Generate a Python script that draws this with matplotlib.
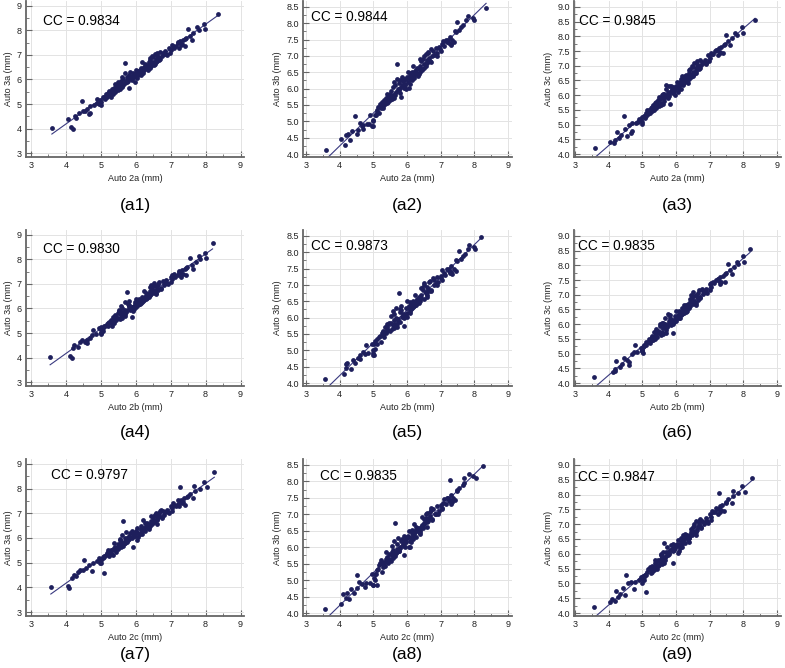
import numpy as np
import matplotlib
matplotlib.use("Agg")
import matplotlib.pyplot as plt
from matplotlib.ticker import MultipleLocator

plt.rcParams['font.family'] = ['Liberation Sans', 'DejaVu Sans']

# measurements per subject (mm), same order in every list
auto2a = [3.60, 4.05, 4.15, 4.20, 4.25, 4.30, 4.38, 4.45, 4.50, 4.65,
          4.55, 4.60, 4.68, 4.70, 4.80, 4.88, 4.90, 4.95, 5.00, 5.05,
          5.10, 5.12, 5.15, 5.18, 5.20, 5.22, 5.25, 5.28, 5.30, 5.32,
          5.35, 5.38, 5.40, 5.42, 5.45, 5.48, 5.50, 5.52, 5.55, 5.58,
          5.60, 5.62, 5.65, 5.68, 5.70, 5.72, 5.75, 5.78, 5.80, 5.82,
          5.85, 5.88, 5.90, 5.92, 5.95, 5.98, 6.00, 6.02, 6.05, 6.08,
          6.10, 6.12, 6.15, 6.18, 6.20, 6.22, 6.25, 6.28, 6.30, 6.32,
          6.35, 6.38, 6.40, 6.42, 6.45, 6.48, 6.50, 6.52, 6.55, 6.58,
          6.60, 6.62, 6.65, 6.68, 6.70, 6.75, 6.80, 6.85, 6.90, 6.95,
          7.00, 7.05, 7.10, 7.15, 7.20, 7.25, 7.28, 7.32, 7.35, 7.40,
          7.45, 7.50, 7.55, 7.60, 7.65, 7.75, 7.82, 7.95, 7.98, 8.35,
          5.08, 5.35, 5.55, 5.75, 5.95, 6.15, 6.35, 6.55, 5.00, 4.98,
          5.25, 5.45, 5.60, 5.65, 5.70, 5.78, 5.85, 5.90, 5.98, 6.02,
          6.08, 6.15, 6.22, 6.28, 6.32, 6.40, 6.45, 6.50, 6.58, 6.62,
          6.70, 6.78, 6.88, 6.98, 7.08, 7.22, 7.30, 7.42, 5.40, 5.50]
auto2b = [3.55, 4.20, 4.12, 4.18, 4.22, 4.35, 4.40, 4.78, 4.45, 4.60,
          4.60, 4.70, 4.75, 4.55, 4.85, 5.00, 4.95, 5.00, 5.05, 5.10,
          5.12, 5.05, 5.20, 5.22, 5.25, 5.18, 5.30, 5.32, 5.28, 5.40,
          5.38, 5.35, 5.45, 5.48, 5.50, 5.42, 5.55, 5.60, 5.58, 5.52,
          5.65, 5.70, 5.62, 5.72, 5.75, 5.68, 5.80, 5.85, 5.78, 5.90,
          5.88, 5.82, 5.95, 5.98, 6.00, 5.92, 6.05, 6.08, 6.00, 6.12,
          6.15, 6.10, 6.20, 6.25, 6.22, 6.18, 6.30, 6.32, 6.35, 6.28,
          6.40, 6.42, 6.38, 6.48, 6.50, 6.45, 6.55, 6.58, 6.52, 6.62,
          6.65, 6.68, 6.60, 6.72, 6.78, 6.80, 6.85, 6.88, 6.92, 7.00,
          7.05, 7.10, 7.12, 7.20, 7.25, 7.30, 7.32, 7.28, 7.40, 7.45,
          7.48, 7.55, 7.60, 7.65, 7.72, 7.80, 7.85, 7.98, 8.02, 8.20,
          5.02, 5.30, 5.60, 5.72, 5.98, 6.12, 6.30, 6.58, 5.02, 5.00,
          5.28, 5.42, 5.58, 5.70, 5.68, 5.80, 5.82, 5.92, 6.02, 6.00,
          6.10, 6.18, 6.25, 6.30, 6.35, 6.42, 6.42, 6.52, 6.55, 6.65,
          6.72, 6.80, 6.90, 7.00, 7.05, 7.25, 7.35, 7.45, 5.38, 5.52]
auto2c = [3.57, 4.18, 4.05, 4.10, 4.22, 4.28, 4.35, 4.52, 4.42, 5.10,
          4.50, 4.58, 4.65, 4.75, 4.78, 4.90, 4.95, 4.98, 5.02, 5.08,
          5.15, 5.10, 5.18, 5.25, 5.20, 5.28, 5.22, 5.35, 5.30, 5.38,
          5.45, 5.40, 5.48, 5.38, 5.52, 5.55, 5.50, 5.58, 5.62, 5.55,
          5.68, 5.65, 5.70, 5.75, 5.65, 5.78, 5.82, 5.80, 5.85, 5.92,
          5.88, 5.95, 5.90, 6.00, 5.98, 6.05, 6.02, 6.10, 6.08, 6.15,
          6.12, 6.20, 6.18, 6.22, 6.25, 6.28, 6.30, 6.35, 6.28, 6.38,
          6.42, 6.45, 6.40, 6.50, 6.48, 6.55, 6.52, 6.60, 6.58, 6.65,
          6.62, 6.70, 6.68, 6.75, 6.72, 6.82, 6.85, 6.90, 6.95, 7.02,
          7.05, 7.08, 7.15, 7.22, 7.28, 7.25, 7.30, 7.35, 7.38, 7.42,
          7.50, 7.28, 7.55, 7.65, 7.70, 7.68, 7.85, 7.95, 8.05, 8.25,
          5.05, 5.32, 5.58, 5.70, 5.92, 6.18, 6.38, 6.52, 5.00, 5.05,
          5.30, 5.48, 5.62, 5.68, 5.72, 5.75, 5.90, 5.95, 6.00, 6.05,
          6.12, 6.15, 6.22, 6.32, 6.35, 6.45, 6.48, 6.55, 6.60, 6.68,
          6.75, 6.78, 6.92, 7.05, 7.10, 7.20, 7.32, 7.48, 5.42, 5.55]
auto3a = [4.03, 4.38, 4.05, 3.98, 4.50, 4.45, 4.62, 5.12, 4.70, 4.58,
          4.72, 4.80, 4.90, 4.65, 4.98, 5.05, 5.20, 5.00, 5.10, 5.28,
          5.30, 5.22, 5.40, 5.28, 5.45, 5.35, 5.52, 5.30, 5.50, 5.60,
          5.42, 5.65, 5.55, 5.80, 5.62, 5.70, 5.58, 5.85, 5.72, 5.95,
          5.80, 5.68, 6.00, 5.85, 6.67, 5.92, 6.10, 5.95, 6.20, 5.65,
          6.05, 6.15, 5.98, 6.25, 6.10, 5.90, 6.28, 6.15, 6.05, 6.35,
          6.22, 6.40, 6.30, 6.72, 6.38, 6.28, 6.50, 6.42, 6.60, 6.45,
          6.55, 6.70, 6.48, 6.80, 6.62, 6.95, 6.70, 6.58, 7.02, 6.85,
          6.75, 7.08, 6.90, 6.80, 7.12, 6.95, 7.05, 7.15, 7.00, 7.30,
          7.20, 7.42, 7.28, 7.38, 7.48, 7.30, 7.55, 7.45, 7.62, 7.35,
          7.70, 8.05, 7.78, 7.62, 7.90, 8.12, 8.00, 8.25, 8.05, 8.68,
          5.25, 5.50, 5.62, 5.88, 6.20, 6.18, 6.38, 6.65, 4.98, 5.18,
          5.40, 5.75, 6.12, 5.78, 6.25, 6.00, 6.30, 6.08, 6.22, 6.40,
          6.18, 6.48, 6.35, 6.62, 6.50, 6.88, 6.55, 6.92, 6.72, 7.00,
          6.85, 7.10, 7.05, 7.10, 7.35, 7.52, 7.40, 7.65, 5.50, 5.90]
auto3b = [4.12, 4.45, 4.27, 4.58, 4.60, 4.42, 4.72, 5.15, 4.62, 4.85,
          4.75, 4.95, 4.88, 4.78, 4.92, 4.92, 5.18, 4.85, 5.05, 5.20,
          5.35, 5.30, 5.45, 5.25, 5.52, 5.40, 5.60, 5.42, 5.48, 5.65,
          5.52, 5.70, 5.62, 5.85, 5.58, 5.75, 5.65, 5.92, 5.78, 6.05,
          5.82, 5.72, 6.10, 5.90, 6.75, 5.98, 6.18, 6.02, 6.25, 5.75,
          6.10, 6.22, 6.05, 6.30, 6.15, 6.00, 6.35, 6.20, 6.02, 6.42,
          6.28, 6.48, 6.35, 6.70, 6.45, 6.32, 6.55, 6.48, 6.62, 6.40,
          6.60, 6.68, 6.52, 6.85, 6.58, 6.90, 6.75, 6.62, 7.05, 6.88,
          6.80, 7.12, 6.95, 6.85, 7.20, 7.00, 7.02, 7.25, 7.10, 7.28,
          7.15, 7.35, 7.30, 7.48, 7.42, 7.40, 7.58, 7.38, 7.50, 7.42,
          7.72, 8.05, 7.80, 7.88, 7.95, 8.10, 8.22, 8.15, 8.10, 8.47,
          5.18, 5.55, 5.68, 5.95, 6.12, 6.25, 6.45, 6.70, 4.85, 5.00,
          5.48, 5.80, 6.20, 5.82, 6.28, 5.88, 6.35, 6.02, 6.28, 6.50,
          6.15, 6.52, 6.40, 6.58, 6.45, 6.92, 6.60, 7.00, 6.78, 7.08,
          6.82, 7.15, 7.00, 7.20, 7.45, 7.48, 7.32, 7.75, 5.55, 5.85]
auto3c = [4.20, 4.42, 4.38, 4.48, 4.75, 4.55, 4.65, 5.30, 4.85, 4.70,
          4.60, 5.00, 5.05, 4.80, 5.05, 5.10, 5.20, 5.15, 5.25, 5.30,
          5.40, 5.28, 5.50, 5.35, 5.48, 5.38, 5.55, 5.45, 5.60, 5.68,
          5.50, 5.72, 5.58, 5.78, 5.70, 5.82, 5.62, 5.88, 5.75, 6.00,
          5.90, 5.70, 6.05, 5.95, 6.35, 6.02, 6.12, 5.98, 6.30, 5.70,
          6.15, 6.20, 6.08, 6.28, 6.18, 6.02, 6.32, 6.25, 6.10, 6.40,
          6.30, 6.45, 6.38, 6.65, 6.50, 6.35, 6.58, 6.45, 6.68, 6.52,
          6.62, 6.75, 6.55, 6.90, 6.70, 7.00, 6.78, 6.65, 7.10, 6.92,
          6.82, 7.15, 6.98, 6.88, 7.18, 7.02, 7.08, 7.20, 7.05, 7.35,
          7.25, 7.45, 7.40, 7.50, 7.52, 7.35, 7.60, 7.48, 7.65, 7.45,
          7.75, 8.05, 7.85, 7.70, 7.95, 8.12, 8.05, 8.30, 8.10, 8.55,
          5.22, 5.52, 5.65, 5.92, 6.15, 6.22, 6.40, 6.72, 5.02, 5.10,
          5.45, 5.78, 6.05, 5.80, 6.22, 6.05, 6.32, 6.12, 6.25, 6.45,
          6.20, 6.55, 6.38, 6.65, 6.55, 6.85, 6.62, 6.95, 6.75, 7.05,
          6.92, 7.12, 7.10, 7.15, 7.40, 7.55, 7.42, 7.70, 5.60, 5.95]

x_series = [auto2a, auto2b, auto2c]
y_series = [auto3a, auto3b, auto3c]
x_names = ['Auto 2a (mm)', 'Auto 2b (mm)', 'Auto 2c (mm)']
y_names = ['Auto 3a (mm)', 'Auto 3b (mm)', 'Auto 3c (mm)']
cc_values = [[0.9834, 0.9844, 0.9845],
             [0.9830, 0.9873, 0.9835],
             [0.9797, 0.9835, 0.9847]]

W, H = 785, 668
fig = plt.figure(figsize=(W / 100, H / 100), dpi=100)

# axes frames in pixels: left, width / top, bottom
col_left = [26, 303, 574]
col_width = [218, 209, 207]
row_top = [1, 230, 459]
row_bottom = [157, 386, 616]
xlims = [(2.86, 9.1), (2.91, 9.12), (2.97, 9.12)]
ylims = [(2.84, 9.2), (3.91, 8.68), (3.9, 9.2)]
cc_pos = [[(0.078, 0.87), (0.04, 0.90), (0.024, 0.87)],
          [(0.078, 0.88), (0.04, 0.90), (0.02, 0.90)],
          [(0.115, 0.90), (0.08, 0.89), (0.02, 0.885)]]
label_y = [205, 432, 655]

navy = '#1e1f5c'
k = 1
for r in range(3):
    for c in range(3):
        left = col_left[c] / W
        bottom = 1 - row_bottom[r] / H
        height = (row_bottom[r] - row_top[r]) / H
        ax = fig.add_axes([left, bottom, col_width[c] / W, height])
        x = np.array(x_series[r])
        y = np.array(y_series[c])
        ax.scatter(x, y, s=12, color=navy, zorder=3, linewidths=0)
        p = np.polyfit(x, y, 1)
        xx = np.array([x.min(), x.max()])
        ax.plot(xx, np.polyval(p, xx), color='#3a3a80', lw=0.8, zorder=2)

        ax.set_xlim(*xlims[c])
        ax.set_ylim(*ylims[c])
        ax.xaxis.set_major_locator(MultipleLocator(1))
        ax.xaxis.set_minor_locator(MultipleLocator(0.5))
        if c == 0:
            ax.yaxis.set_major_locator(MultipleLocator(1))
            ax.yaxis.set_minor_locator(MultipleLocator(0.5))
        else:
            ax.yaxis.set_major_locator(MultipleLocator(0.5))
            ax.yaxis.set_minor_locator(MultipleLocator(0.25))
            ax.yaxis.set_major_formatter(plt.FormatStrFormatter('%.1f'))
        ax.grid(True, which='major', color='#e3e3e3', lw=0.7)
        ax.set_axisbelow(True)
        for s in ['top', 'right']:
            ax.spines[s].set_visible(False)
        for s in ['bottom', 'left']:
            ax.spines[s].set_color('#666666')
            ax.spines[s].set_linewidth(1.3)
        ax.tick_params(which='major', direction='in', length=4, width=0.8,
                       color='#666666', labelsize=6.5, labelcolor='#222222',
                       pad=3)
        ax.tick_params(which='minor', direction='in', length=2, width=0.6,
                       color='#666666')
        ax.set_xlabel(x_names[r], fontsize=6.5, labelpad=3, color='#222222')
        ax.set_ylabel(y_names[c], fontsize=6.5, labelpad=3, color='#222222')
        tx, ty = cc_pos[r][c]
        ax.text(tx, ty, f'CC = {cc_values[r][c]:.4f}', transform=ax.transAxes,
                fontsize=9.8, va='center', ha='left')
        fig.text(left + col_width[c] / W / 2, 1 - label_y[r] / H, f'(a{k})',
                 fontsize=12.5, ha='center', va='center')
        k += 1

fig.savefig('out.png', dpi=100)
